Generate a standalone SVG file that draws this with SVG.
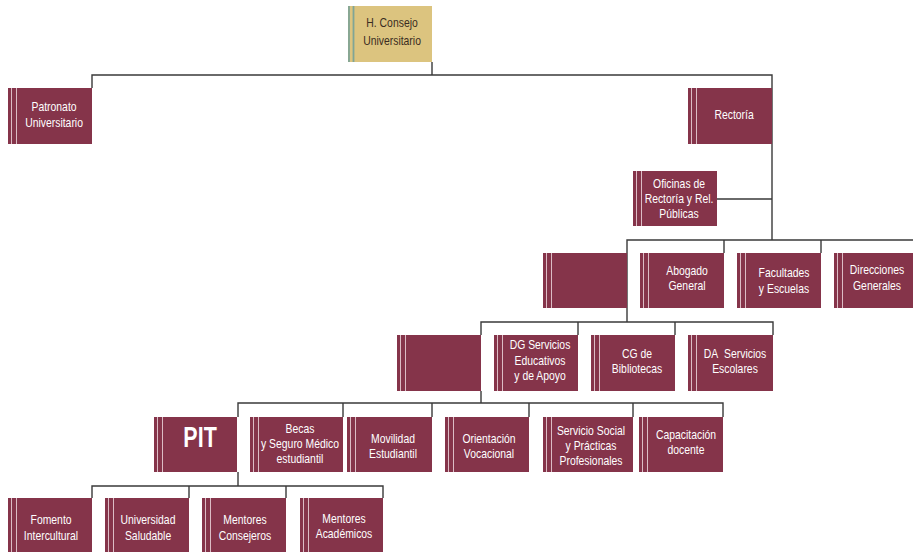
<svg xmlns="http://www.w3.org/2000/svg" width="913" height="552" viewBox="0 0 913 552">
<style>
.b{fill:#85344a}
.s{stroke:#dcbcc5;stroke-width:1}
.g{fill:#dcc47f}
.gs{stroke:#7fa596;stroke-width:1.8}
.t{font-family:"Liberation Sans",Arial,sans-serif;font-size:13px;fill:#fff;text-anchor:middle;transform-box:fill-box;transform-origin:center;transform:scaleX(0.8)}
.tg{fill:#3a2c22}
.pit{font-size:29px;font-weight:bold;transform:scaleX(0.74)}
.c{stroke:#3a3a3a;stroke-width:1.4;fill:none}
</style>
<rect width="913" height="552" fill="#fff"/>
<g id="connectors">
<path class="c" d="M432 62V75M92 88V75H772V240M717 199H772"/>
<path class="c" d="M627 308V240H913M724 253V240M821 253V240M627 308V322"/>
<path class="c" d="M481 335V322H773V335M578 335V322M675 335V322M481 391V403"/>
<path class="c" d="M238 417V403H723V417M343 417V403M432 417V403M529 417V403M633 417V403"/>
<path class="c" d="M238 472V486M92 498V486H383V498M189 498V486M286 498V486"/>
</g>
<g id="consejo">
<rect class="g" x="348" y="6" width="84" height="56"/>
<line class="gs" x1="349" y1="6" x2="349" y2="62"/><line class="gs" x1="353.5" y1="6" x2="353.5" y2="62"/>
<text class="t tg" x="392" y="27">H. Consejo</text><text class="t tg" x="392" y="45">Universitario</text>
</g>
<g id="patronato">
<rect class="b" x="8" y="88" width="84" height="56"/>
<line class="s" x1="11.5" y1="88" x2="11.5" y2="144"/><line class="s" x1="16.5" y1="88" x2="16.5" y2="144"/>
<text class="t" x="54" y="111">Patronato</text><text class="t" x="54" y="127">Universitario</text>
</g>
<g id="rectoria">
<rect class="b" x="688" y="88" width="84" height="56"/>
<line class="s" x1="691.5" y1="88" x2="691.5" y2="144"/><line class="s" x1="696.5" y1="88" x2="696.5" y2="144"/>
<text class="t" x="734" y="119.5">Rectoría</text>
</g>
<g id="oficinas">
<rect class="b" x="633" y="171" width="84" height="55"/>
<line class="s" x1="636.5" y1="171" x2="636.5" y2="226"/><line class="s" x1="641.5" y1="171" x2="641.5" y2="226"/>
<text class="t" x="679" y="188">Oficinas de</text><text class="t" x="679" y="203">Rectoría y Rel.</text><text class="t" x="679" y="218">Públicas</text>
</g>
<g id="blank1">
<rect class="b" x="543" y="253" width="84" height="55"/>
<line class="s" x1="546.5" y1="253" x2="546.5" y2="308"/><line class="s" x1="551.5" y1="253" x2="551.5" y2="308"/>
</g>
<g id="abogado">
<rect class="b" x="640" y="253" width="84" height="55"/>
<line class="s" x1="643.5" y1="253" x2="643.5" y2="308"/><line class="s" x1="648.5" y1="253" x2="648.5" y2="308"/>
<text class="t" x="687" y="275">Abogado</text><text class="t" x="687" y="290">General</text>
</g>
<g id="facultades">
<rect class="b" x="737" y="253" width="84" height="55"/>
<line class="s" x1="740.5" y1="253" x2="740.5" y2="308"/><line class="s" x1="745.5" y1="253" x2="745.5" y2="308"/>
<text class="t" x="784" y="277">Facultades</text><text class="t" x="784" y="293">y Escuelas</text>
</g>
<g id="direcciones">
<rect class="b" x="834" y="253" width="79" height="55"/>
<line class="s" x1="837.5" y1="253" x2="837.5" y2="308"/><line class="s" x1="842.5" y1="253" x2="842.5" y2="308"/>
<text class="t" x="877" y="274">Direcciones</text><text class="t" x="877" y="290">Generales</text>
</g>
<g id="blank2">
<rect class="b" x="397" y="335" width="84" height="56"/>
<line class="s" x1="400.5" y1="335" x2="400.5" y2="391"/><line class="s" x1="405.5" y1="335" x2="405.5" y2="391"/>
</g>
<g id="dg">
<rect class="b" x="494" y="335" width="84" height="56"/>
<line class="s" x1="497.5" y1="335" x2="497.5" y2="391"/><line class="s" x1="502.5" y1="335" x2="502.5" y2="391"/>
<text class="t" x="540" y="349">DG Servicios</text><text class="t" x="540" y="365">Educativos</text><text class="t" x="540" y="380">y de Apoyo</text>
</g>
<g id="cg">
<rect class="b" x="591" y="335" width="84" height="56"/>
<line class="s" x1="594.5" y1="335" x2="594.5" y2="391"/><line class="s" x1="599.5" y1="335" x2="599.5" y2="391"/>
<text class="t" x="637" y="358">CG de</text><text class="t" x="637" y="373">Bibliotecas</text>
</g>
<g id="da">
<rect class="b" x="688" y="335" width="85" height="56"/>
<line class="s" x1="691.5" y1="335" x2="691.5" y2="391"/><line class="s" x1="696.5" y1="335" x2="696.5" y2="391"/>
<text class="t" x="735" y="358">DA&#160; Servicios</text><text class="t" x="735" y="373">Escolares</text>
</g>
<g id="pit">
<rect class="b" x="154" y="417" width="83" height="55"/>
<line class="s" x1="157.5" y1="417" x2="157.5" y2="472"/><line class="s" x1="162.5" y1="417" x2="162.5" y2="472"/>
<text class="t pit" x="200" y="447">PIT</text>
</g>
<g id="becas">
<rect class="b" x="250" y="417" width="93" height="55"/>
<line class="s" x1="253.5" y1="417" x2="253.5" y2="472"/><line class="s" x1="258.5" y1="417" x2="258.5" y2="472"/>
<text class="t" x="300" y="433">Becas</text><text class="t" x="300" y="448">y Seguro Médico</text><text class="t" x="300" y="463">estudiantil</text>
</g>
<g id="movilidad">
<rect class="b" x="347" y="417" width="85" height="55"/>
<line class="s" x1="350.5" y1="417" x2="350.5" y2="472"/><line class="s" x1="355.5" y1="417" x2="355.5" y2="472"/>
<text class="t" x="393" y="443">Movilidad</text><text class="t" x="393" y="458">Estudiantil</text>
</g>
<g id="orientacion">
<rect class="b" x="445" y="417" width="84" height="55"/>
<line class="s" x1="448.5" y1="417" x2="448.5" y2="472"/><line class="s" x1="453.5" y1="417" x2="453.5" y2="472"/>
<text class="t" x="489" y="443">Orientación</text><text class="t" x="489" y="458">Vocacional</text>
</g>
<g id="servicio">
<rect class="b" x="543" y="417" width="90" height="55"/>
<line class="s" x1="546.5" y1="417" x2="546.5" y2="472"/><line class="s" x1="551.5" y1="417" x2="551.5" y2="472"/>
<text class="t" x="591" y="435">Servicio Social</text><text class="t" x="591" y="450">y Prácticas</text><text class="t" x="591" y="465">Profesionales</text>
</g>
<g id="capacitacion">
<rect class="b" x="639" y="417" width="84" height="55"/>
<line class="s" x1="642.5" y1="417" x2="642.5" y2="472"/><line class="s" x1="647.5" y1="417" x2="647.5" y2="472"/>
<text class="t" x="686" y="439">Capacitación</text><text class="t" x="686" y="454">docente</text>
</g>
<g id="fomento">
<rect class="b" x="8" y="498" width="84" height="54"/>
<line class="s" x1="11.5" y1="498" x2="11.5" y2="552"/><line class="s" x1="16.5" y1="498" x2="16.5" y2="552"/>
<text class="t" x="51" y="524">Fomento</text><text class="t" x="51" y="540">Intercultural</text>
</g>
<g id="universidad">
<rect class="b" x="105" y="498" width="84" height="54"/>
<line class="s" x1="108.5" y1="498" x2="108.5" y2="552"/><line class="s" x1="113.5" y1="498" x2="113.5" y2="552"/>
<text class="t" x="148" y="524">Universidad</text><text class="t" x="148" y="540">Saludable</text>
</g>
<g id="consejeros">
<rect class="b" x="202" y="498" width="84" height="54"/>
<line class="s" x1="205.5" y1="498" x2="205.5" y2="552"/><line class="s" x1="210.5" y1="498" x2="210.5" y2="552"/>
<text class="t" x="245" y="524">Mentores</text><text class="t" x="245" y="540">Consejeros</text>
</g>
<g id="academicos">
<rect class="b" x="300" y="498" width="83" height="54"/>
<line class="s" x1="303.5" y1="498" x2="303.5" y2="552"/><line class="s" x1="308.5" y1="498" x2="308.5" y2="552"/>
<text class="t" x="344" y="523">Mentores</text><text class="t" x="344" y="538">Académicos</text>
</g>
</svg>
